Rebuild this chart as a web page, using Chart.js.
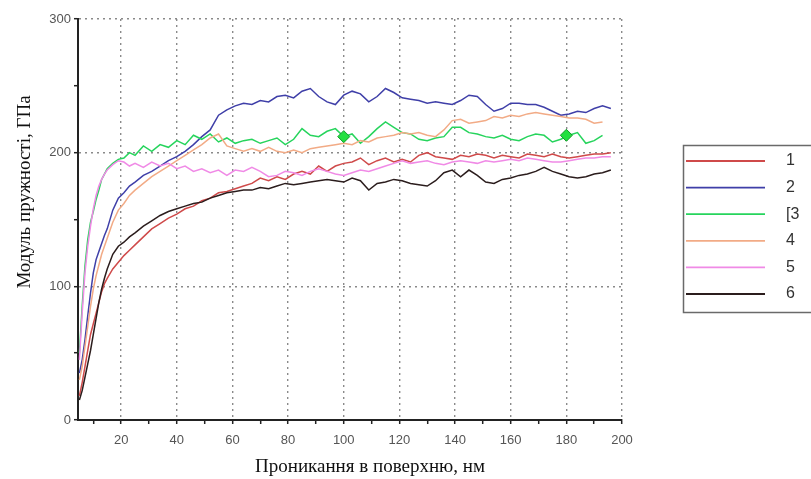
<!DOCTYPE html>
<html>
<head>
<meta charset="utf-8">
<script src="https://cdn.jsdelivr.net/npm/chart.js@4.4.1/dist/chart.umd.min.js"></script>
<style>
  html, body { margin: 0; padding: 0; background: #ffffff; }
  #wrap { width: 811px; height: 479px; position: relative; }
</style>
</head>
<body>
<div id="wrap"><canvas id="c" width="811" height="479"></canvas></div>
<script>
// ---- data ----
const xValues = [5,6,7,8,9,10,11,12,13,14,15,17,19,21,23,25,28,31,34,37,40,43,46,49,52,55,58,61,64,67,70,73,76,79,82,85,88,91,94,97,100,103,106,109,112,115,118,121,124,127,130,133,136,139,142,145,148,151,154,157,160,163,166,169,172,175,178,181,184,187,190,193,196];

const series1 = [18,28,40,52,64,72,80,88,96,102,106,113,118,123,127,131,137,143,147,151,154,158,160,164,166,170,171,173,175,177,181,179,182,180,184,186,184,190,186,190,192,193,196,191,194,196,193,195,193,198,200,197,196,195,198,197,199,198,196,198,197,196,199,198,197,199,197,196,197,198,199,199,200];
const series2 = [35,45,60,78,95,110,120,126,132,138,143,157,166,170,175,178,183,186,190,194,197,201,206,212,217,228,232,235,237,236,239,238,242,243,241,246,248,242,238,236,243,246,244,238,242,248,245,241,240,239,237,238,237,236,239,243,242,236,231,233,237,237,236,236,234,231,228,229,231,230,233,235,233];
const series3 = [50,85,115,135,148,156,165,172,180,184,188,192,195,196,200,198,205,201,206,204,209,206,213,210,214,208,211,207,209,210,207,209,211,206,210,218,213,212,216,218,212,214,207,212,218,223,219,215,214,210,209,211,212,219,219,215,214,212,211,213,210,209,212,214,213,208,210,213,215,207,209,213,null];
const series4 = [30,40,55,70,85,98,108,116,124,130,136,148,157,162,168,172,177,182,186,190,194,198,202,206,211,214,205,203,201,203,201,204,201,200,202,200,203,204,205,206,207,206,209,208,211,212,213,215,214,215,213,212,217,224,225,222,223,224,227,226,228,227,229,230,229,228,227,226,226,225,222,223,null];
const series5 = [45,80,110,130,145,158,168,175,180,184,187,191,194,193,190,192,189,193,190,192,188,190,186,188,185,187,183,187,186,189,186,182,183,186,185,183,186,188,186,184,183,185,187,186,188,190,192,194,192,193,194,192,191,193,194,193,192,194,193,194,195,194,196,195,194,193,193,194,195,196,196,197,197];
const series6 = [15,22,32,42,52,64,76,88,98,106,113,124,130,133,137,140,145,149,153,156,158,160,162,163,166,168,170,171,172,172,174,173,175,177,176,177,178,179,180,179,178,181,179,172,177,178,180,179,177,176,175,179,185,187,182,187,183,178,177,180,181,183,184,186,189,186,184,182,181,182,184,185,187];

const markerX = [100, 180];
const markerY = [212, 213];

const legendLabels = ['1', '2', '[3', '4', '5', '6'];
const xTickValues = [10,20,30,40,50,60,70,80,90,100,110,120,130,140,150,160,170,180,190,200];
const yTickValues = [0,50,100,150,200,250,300];
const xTitle = 'Проникання в поверхню, нм';
const yTitle = 'Модуль пружності, ГПа';

// ---- styles ----
const colors = ['#cf4a4a', '#3f3fa8', '#26d45c', '#f2ab86', '#f08ae6', '#2b1d1d'];
const allSeries = [series1, series2, series3, series4, series5, series6];
const titleFont = '19px "Liberation Serif", "Times New Roman", serif';
const tickFont = { family: '"Liberation Sans", Arial, sans-serif', size: 13 };

const datasets = allSeries.map((s, i) => ({
  label: legendLabels[i],
  data: xValues.map((x, j) => ({ x: x, y: s[j] })),
  borderColor: colors[i],
  backgroundColor: colors[i],
  borderWidth: 1.5,
  pointRadius: 0,
  tension: 0,
  spanGaps: false,
  order: 6 - i
}));
datasets.push({
  label: 'markers',
  data: markerX.map((x, j) => ({ x: x, y: markerY[j] })),
  showLine: false,
  pointStyle: 'rectRot',
  pointRadius: 6,
  pointBackgroundColor: '#22e040',
  pointBorderColor: '#139a2a',
  pointBorderWidth: 1,
  order: 0
});

const extrasPlugin = {
  id: 'boxLegendAndTitles',
  afterDraw(chart) {
    const ctx = chart.ctx;
    ctx.save();
    // legend box
    ctx.strokeStyle = '#6a6a6a';
    ctx.lineWidth = 1.5;
    ctx.strokeRect(683.5, 145.5, 140, 167);
    ctx.font = '16px "Liberation Sans", Arial, sans-serif';
    ctx.textBaseline = 'middle';
    ctx.textAlign = 'left';
    for (let i = 0; i < legendLabels.length; i++) {
      const y = 161 + i * 26.6;
      ctx.strokeStyle = colors[i];
      ctx.lineWidth = 1.8;
      ctx.beginPath();
      ctx.moveTo(686, y);
      ctx.lineTo(765, y);
      ctx.stroke();
      ctx.fillStyle = '#333333';
      ctx.fillText(legendLabels[i], 786, y);
    }
    // axis titles
    ctx.fillStyle = '#111111';
    ctx.font = titleFont;
    ctx.textAlign = 'center';
    ctx.textBaseline = 'middle';
    ctx.fillText(xTitle, 370, 467);
    ctx.translate(25, 192);
    ctx.rotate(-Math.PI / 2);
    ctx.fillText(yTitle, 0, 0);
    ctx.restore();
  }
};

new Chart(document.getElementById('c'), {
  type: 'line',
  data: { datasets: datasets },
  plugins: [extrasPlugin],
  options: {
    responsive: false,
    animation: false,
    layout: { padding: { left: 0, right: 189, top: 19, bottom: 0 } },
    plugins: { legend: { display: false }, tooltip: { enabled: false } },
    scales: {
      x: {
        type: 'linear',
        min: 4.5,
        max: 200,
        afterBuildTicks: (scale) => { scale.ticks = xTickValues.map(v => ({ value: v })); },
        afterFit: (scale) => { scale.height = 59; },
        ticks: {
          autoSkip: false,
          maxRotation: 0,
          padding: 9,
          color: '#555555',
          font: tickFont,
          callback: (v) => (v % 20 === 0 ? String(v) : '')
        },
        grid: {
          color: (c) => (c.tick && c.tick.value % 20 === 0 ? '#8a8a8a' : 'rgba(0,0,0,0)'),
          lineWidth: 1.4,
          drawTicks: true,
          tickLength: 4,
          tickColor: '#222222',
          tickWidth: 1.5
        },
        border: { display: true, color: '#222222', width: 2, dash: [2, 4] },
        title: { display: false }
      },
      y: {
        type: 'linear',
        min: 0,
        max: 300,
        afterBuildTicks: (scale) => { scale.ticks = yTickValues.map(v => ({ value: v })); },
        afterFit: (scale) => { scale.width = 78; },
        ticks: {
          autoSkip: false,
          padding: 3,
          color: '#555555',
          font: tickFont,
          callback: (v) => (v % 100 === 0 ? String(v) : '')
        },
        grid: {
          color: (c) => (c.tick && c.tick.value % 100 === 0 && c.tick.value !== 0 ? '#8a8a8a' : 'rgba(0,0,0,0)'),
          lineWidth: 1.4,
          drawTicks: true,
          tickLength: 4,
          tickColor: '#222222',
          tickWidth: 1.5
        },
        border: { display: true, color: '#222222', width: 2, dash: [2, 4] },
        title: { display: false }
      }
    }
  }
});
</script>
</body>
</html>
